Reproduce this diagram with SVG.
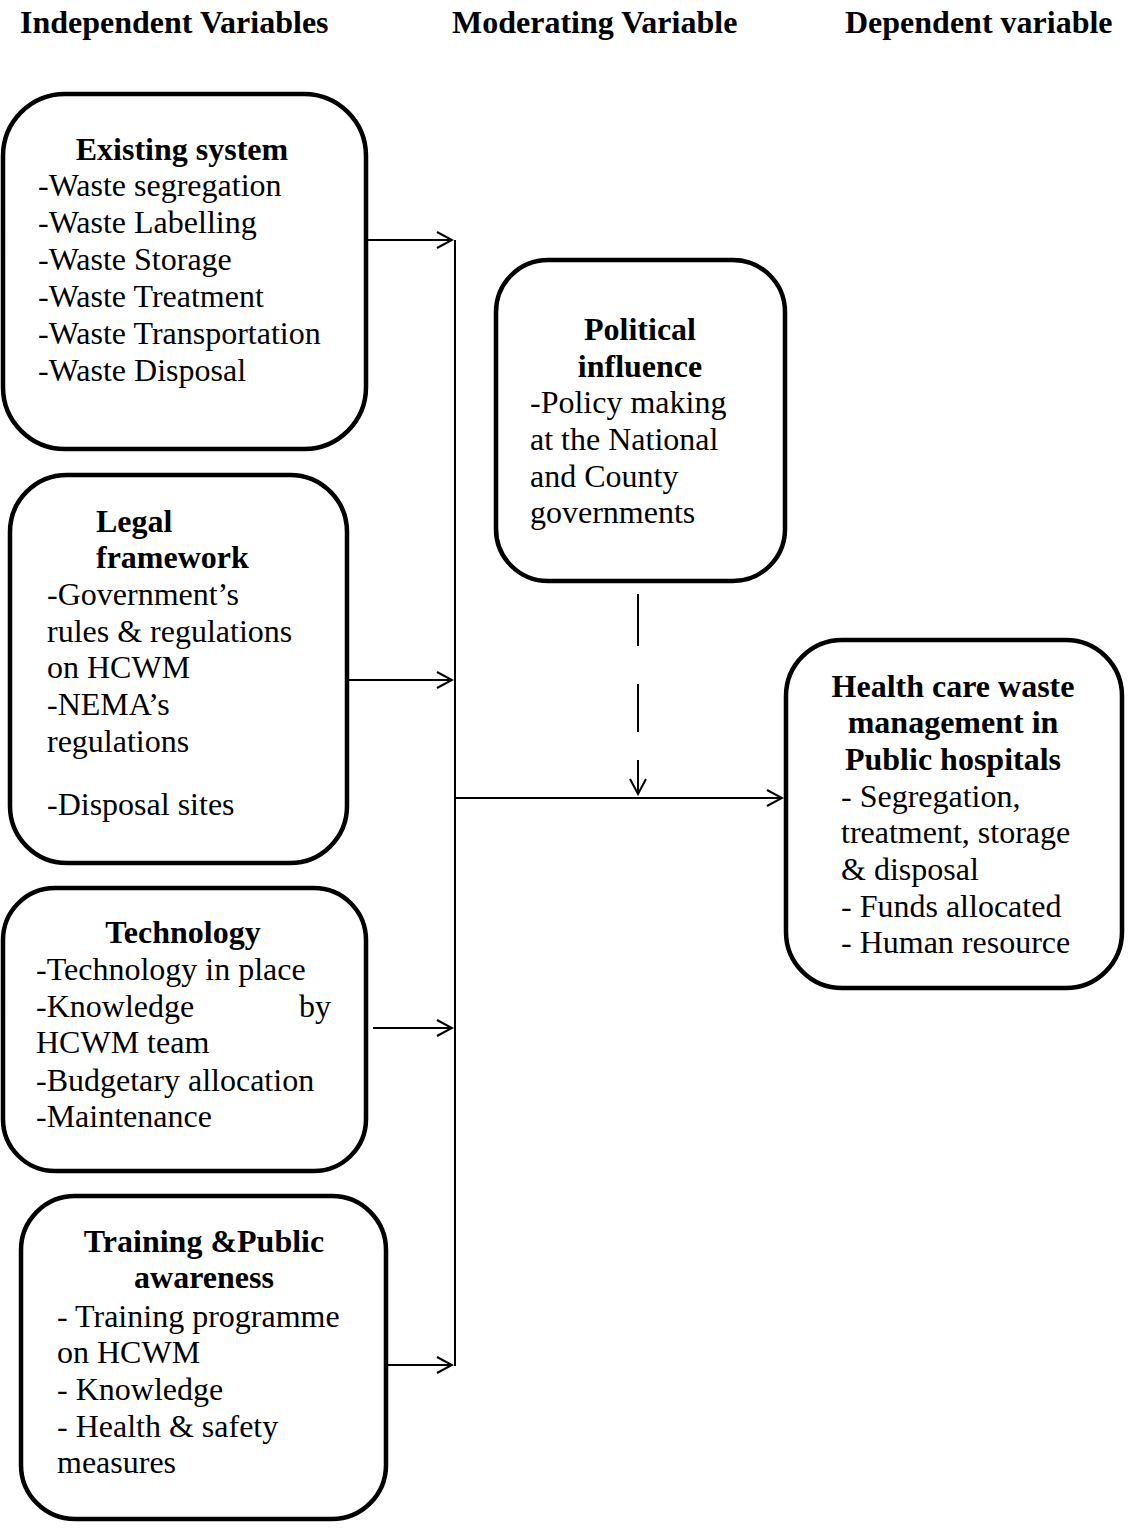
<svg xmlns="http://www.w3.org/2000/svg" width="1128" height="1528" viewBox="0 0 1128 1528">
<style>
  .box { fill: #fff; stroke: #000; stroke-width: 4.5; }
  text { font-family: "Liberation Serif", "Times New Roman", serif; font-size: 32px; fill: #000; }
  .b { font-weight: bold; }
  .c { text-anchor: middle; }
  .e { text-anchor: end; }
  .ln { stroke: #000; stroke-width: 2; fill: none; }
</style>
<defs>
  <marker id="arr" viewBox="-17 -10 19 20" refX="0" refY="0" markerWidth="19" markerHeight="20" markerUnits="userSpaceOnUse" orient="auto">
    <path d="M-15,-8 L0,0 L-15,8" fill="none" stroke="#000" stroke-width="2"/>
  </marker>
</defs>
<rect width="1128" height="1528" fill="#fff"/>

<g id="headers">
  <text class="b" x="20" y="33">Independent Variables</text>
  <text class="b" x="452" y="33">Moderating Variable</text>
  <text class="b" x="845" y="33">Dependent variable</text>
</g>

<g id="connectors">
  <line class="ln" x1="367" y1="240" x2="452" y2="240" marker-end="url(#arr)"/>
  <line class="ln" x1="348" y1="680" x2="452" y2="680" marker-end="url(#arr)"/>
  <line class="ln" x1="373" y1="1028" x2="452" y2="1028" marker-end="url(#arr)"/>
  <line class="ln" x1="387" y1="1365" x2="452" y2="1365" marker-end="url(#arr)"/>
  <line class="ln" x1="455" y1="240" x2="455" y2="1366"/>
  <line class="ln" x1="455" y1="798" x2="782" y2="798" marker-end="url(#arr)"/>
  <line class="ln" x1="638" y1="594" x2="638" y2="794" stroke-dasharray="52 38 48 28 40" marker-end="url(#arr)"/>
</g>

<g id="existing-system">
  <rect class="box" x="3" y="94" width="363" height="355" rx="62" ry="62"/>
  <text class="b c" x="182" y="160">Existing system</text>
  <text x="38" y="196">-Waste segregation</text>
  <text x="38" y="233">-Waste Labelling</text>
  <text x="38" y="270">-Waste Storage</text>
  <text x="38" y="307">-Waste Treatment</text>
  <text x="38" y="344">-Waste Transportation</text>
  <text x="38" y="381">-Waste Disposal</text>
</g>

<g id="legal-framework">
  <rect class="box" x="10" y="475" width="337" height="388" rx="57" ry="57"/>
  <text class="b" x="96" y="532">Legal</text>
  <text class="b" x="96" y="568">framework</text>
  <text x="47" y="605">-Government’s</text>
  <text x="47" y="642">rules &amp; regulations</text>
  <text x="47" y="678">on HCWM</text>
  <text x="47" y="715">-NEMA’s</text>
  <text x="47" y="752">regulations</text>
  <text x="47" y="815">-Disposal sites</text>
</g>

<g id="technology">
  <rect class="box" x="3" y="888" width="363" height="283" rx="52" ry="52"/>
  <text class="b c" x="183" y="943">Technology</text>
  <text x="36" y="980">-Technology in place</text>
  <text x="36" y="1017">-Knowledge</text>
  <text class="e" x="331" y="1017">by</text>
  <text x="36" y="1053">HCWM team</text>
  <text x="36" y="1091">-Budgetary allocation</text>
  <text x="36" y="1127">-Maintenance</text>
</g>

<g id="training">
  <rect class="box" x="21" y="1196" width="365" height="323" rx="54" ry="54"/>
  <text class="b c" x="204" y="1252">Training &amp;Public</text>
  <text class="b c" x="204" y="1288">awareness</text>
  <text x="57" y="1327">- Training programme</text>
  <text x="57" y="1363">on HCWM</text>
  <text x="57" y="1400">- Knowledge</text>
  <text x="57" y="1437">- Health &amp; safety</text>
  <text x="57" y="1473">measures</text>
</g>

<g id="political-influence">
  <rect class="box" x="496" y="260" width="289" height="321" rx="52" ry="52"/>
  <text class="b c" x="640" y="340">Political</text>
  <text class="b c" x="640" y="377">influence</text>
  <text x="530" y="413">-Policy making</text>
  <text x="530" y="450">at the National</text>
  <text x="530" y="487">and County</text>
  <text x="530" y="523">governments</text>
</g>

<g id="hcwm">
  <rect class="box" x="786" y="640" width="336" height="348" rx="56" ry="56"/>
  <text class="b c" x="953" y="697">Health care waste</text>
  <text class="b c" x="953" y="733">management in</text>
  <text class="b c" x="953" y="770">Public hospitals</text>
  <text x="841" y="807">- Segregation,</text>
  <text x="841" y="843">treatment, storage</text>
  <text x="841" y="880">&amp; disposal</text>
  <text x="841" y="917">- Funds allocated</text>
  <text x="841" y="953">- Human resource</text>
</g>
</svg>
